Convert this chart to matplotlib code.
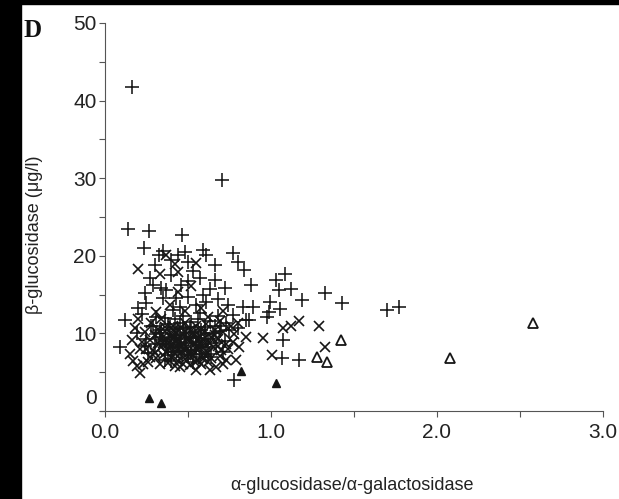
import numpy as np
import matplotlib.pyplot as plt
from matplotlib.patches import Rectangle
from matplotlib.transforms import ScaledTranslation

plt.rcParams['font.family'] = ['Liberation Sans', 'DejaVu Sans']

# "+" group
plus_x = [0.16, 0.707, 0.137, 0.267, 0.466, 0.235,
          0.327, 0.44, 0.48, 0.59, 0.61, 0.50, 0.30, 0.66, 0.77, 0.80, 0.84, 0.27, 0.40, 0.50,
          0.66, 0.72, 0.88, 0.24, 0.34, 0.35, 0.50, 0.59, 0.61, 0.25, 0.45, 0.83, 0.89, 0.12,
          0.31, 0.41, 0.57, 0.77, 0.85, 0.09, 0.78, 0.87,
          1.70, 1.77, 1.43, 1.325, 1.084, 1.03, 1.05, 1.12, 1.185, 0.994, 1.054, 0.974, 0.99,
          1.074, 1.064, 1.17,
          0.22, 0.28, 0.33, 0.36, 0.38, 0.42, 0.44, 0.47, 0.52, 0.54, 0.56, 0.60, 0.63, 0.65,
          0.68, 0.70, 0.73, 0.75, 0.80, 0.19, 0.25, 0.30, 0.35, 0.40, 0.45, 0.49, 0.53, 0.58,
          0.62, 0.67, 0.72, 0.26, 0.38, 0.46, 0.55, 0.64, 0.43, 0.55, 0.37, 0.46, 0.53, 0.57,
          0.63, 0.68, 0.74, 0.40, 0.35, 0.29, 0.20,
          0.31, 0.42, 0.51, 0.57, 0.36, 0.47, 0.60, 0.66, 0.53, 0.41,
          0.34, 0.39, 0.44, 0.49, 0.55, 0.61, 0.37, 0.43, 0.48, 0.52, 0.58, 0.33, 0.40,
          0.45, 0.50, 0.56, 0.62, 0.69, 0.29, 0.24, 0.71]
plus_y = [41.7, 29.8, 23.5, 23.2, 22.7, 21.0,
          20.1, 20.1, 20.5, 20.7, 20.1, 19.2, 18.8, 18.8, 20.3, 19.2, 18.2, 17.1, 17.5, 16.7,
          16.9, 15.8, 16.2, 15.2, 15.8, 14.5, 14.7, 14.9, 14.1, 13.9, 13.4, 13.4, 13.4, 11.7,
          12.1, 13.0, 12.6, 12.4, 11.7, 8.3, 4.0, 11.7,
          13.0, 13.4, 13.9, 15.2, 17.7, 16.9, 15.6, 15.7, 14.3, 14.1, 13.2, 12.1, 12.8,
          9.2, 6.8, 6.6,
          12.5, 11.0, 10.5, 12.0, 11.2, 11.8, 10.6, 12.2, 11.5, 10.2, 11.9, 10.8, 11.6, 10.1,
          12.3, 10.9, 11.3, 10.4, 10.7, 10.0, 9.3, 8.6, 9.1, 8.4, 9.5, 8.8, 9.6, 8.5,
          9.3, 8.7, 9.0, 7.5, 7.2, 7.7, 7.3, 7.0, 14.6, 13.6, 15.6, 16.3, 18.0, 17.2,
          15.7, 14.4, 13.6, 19.5, 20.6, 16.3, 13.3,
          9.9, 9.4, 10.8, 7.0, 6.6, 10.7, 9.9, 11.0, 6.3, 7.6,
          10.0, 10.8, 8.3, 10.1, 8.9, 8.2, 8.6, 9.8, 9.3, 7.9, 10.5, 9.5, 6.4,
          11.4, 7.2, 9.4, 7.4, 10.3, 10.9, 8.4, 7.6]

# "x" group
cross_x = [0.37, 0.20, 0.44, 0.20, 0.16, 0.17, 0.21, 0.23, 0.79, 0.81, 0.85, 0.63, 0.55, 0.45, 0.67,
           1.29, 1.325, 1.17, 1.074, 1.004, 0.954, 1.12,
           0.28, 0.34, 0.41, 0.48, 0.55, 0.61, 0.69, 0.76,
           0.24, 0.30, 0.36, 0.39, 0.43, 0.47, 0.51, 0.57, 0.60, 0.66, 0.71, 0.78,
           0.22, 0.27, 0.32, 0.37, 0.41, 0.45, 0.50, 0.54, 0.59, 0.63, 0.68, 0.73, 0.77,
           0.25, 0.29, 0.34, 0.38, 0.42, 0.46, 0.49, 0.53, 0.57, 0.61, 0.65, 0.70, 0.74,
           0.27, 0.31, 0.35, 0.40, 0.44, 0.48, 0.52, 0.56, 0.60, 0.64, 0.69, 0.73,
           0.33, 0.38, 0.42, 0.47, 0.51, 0.58, 0.62, 0.71, 0.26,
           0.31, 0.39, 0.48, 0.58, 0.44, 0.52, 0.33, 0.55, 0.42, 0.62, 0.71, 0.80,
           0.18, 0.21, 0.15, 0.19,
           0.35, 0.40, 0.45, 0.50, 0.55, 0.60, 0.37, 0.42, 0.47, 0.52, 0.57, 0.62,
           0.36, 0.41, 0.46, 0.53, 0.58, 0.64, 0.39, 0.44, 0.49, 0.54, 0.59, 0.32,
           0.43, 0.48, 0.56, 0.66, 0.30, 0.68,
           0.38, 0.46, 0.51, 0.56, 0.41, 0.49, 0.54, 0.61, 0.35, 0.44]
cross_y = [20.1, 18.3, 17.9, 11.9, 9.2, 6.4, 4.9, 6.1, 6.6, 8.3, 9.6, 5.3, 5.3, 5.7, 5.7,
           10.9, 8.3, 11.6, 10.7, 7.2, 9.4, 10.9,
           11.3, 11.8, 11.0, 11.4, 10.9, 11.2, 11.6, 11.0,
           10.2, 9.8, 10.3, 9.6, 10.1, 9.9, 10.4, 9.7, 10.3, 9.8, 10.2, 9.9,
           8.9, 9.1, 8.8, 9.3, 8.7, 9.0, 9.2, 8.6, 9.1, 8.8, 9.3, 8.6, 8.9,
           8.0, 7.8, 8.2, 7.9, 8.1, 7.6, 8.3, 7.8, 8.1, 7.7, 8.2, 7.9, 8.0,
           7.0, 6.8, 7.2, 6.9, 7.1, 6.7, 7.0, 6.6, 7.2, 6.8, 7.1, 6.6,
           6.0, 6.2, 5.8, 6.1, 5.9, 6.0, 6.3, 6.0, 6.3,
           12.8, 13.6, 12.9, 13.3, 15.3, 16.1, 17.6, 19.1, 18.9, 12.1, 12.9, 11.3,
           10.7, 8.0, 7.4, 5.8,
           9.5, 9.9, 8.4, 9.6, 8.0, 9.5, 7.6, 7.4, 8.7, 7.4, 8.8, 7.5,
           10.8, 10.5, 10.7, 10.0, 10.6, 9.6, 8.4, 6.4, 7.9, 6.3, 6.7, 10.6,
           9.0, 10.3, 9.3, 10.4, 7.5, 8.4,
           8.6, 8.3, 9.1, 8.0, 9.4, 7.2, 9.8, 8.5, 8.7, 9.2]

# filled triangles
tri_x = [0.265, 0.34, 0.82, 1.03]
tri_y = [1.7, 1.0, 5.1, 3.6]

# open triangles
otri_x = [2.58, 2.08, 1.42, 1.275, 1.335]
otri_y = [11.4, 6.8, 9.2, 6.9, 6.3]

xticks = [0.0, 1.0, 2.0, 3.0]
xtick_labels = ['0.0', '1.0', '2.0', '3.0']
yticks = [0, 10, 20, 30, 40, 50]

W, H = 619, 499
fig = plt.figure(figsize=(W / 100, H / 100), dpi=100)
fig.patch.set_facecolor('white')

# black scan border
fig.patches.append(Rectangle((0, 0), 21 / W, 1, transform=fig.transFigure, color='black', zorder=0))
fig.patches.append(Rectangle((0, 1 - 4 / H), 1, 4 / H, transform=fig.transFigure, color='black', zorder=0))

ax = fig.add_axes([100 / W, (H - 411) / H, (603 - 100) / W, (411 - 23) / H])
ax.set_xlim(-0.03, 3.0)
ax.set_ylim(0, 50)

ink = '#161616'
ax.plot(plus_x, plus_y, linestyle='none', marker='+', ms=10, mew=1.15, color=ink, clip_on=False)
ax.plot(cross_x, cross_y, linestyle='none', marker='x', ms=7, mew=1.2, color=ink, clip_on=False)
ax.plot(tri_x, tri_y, linestyle='none', marker='^', ms=6, color=ink, mec=ink, clip_on=False)
ax.plot(otri_x, otri_y, linestyle='none', marker='^', ms=7.5, mfc='none', mew=1.3, color=ink, clip_on=False)

for s in ['top', 'right']:
    ax.spines[s].set_visible(False)
ax.spines['left'].set_position(('data', 0))
ax.spines['left'].set_color('#555555')
ax.spines['bottom'].set_color('#555555')

ax.set_xticks(xticks)
ax.set_xticklabels(xtick_labels)
ax.set_xticks([0.5, 1.5, 2.5], minor=True)
ax.set_yticks(yticks)
ax.set_yticks([5, 15, 25, 35, 45], minor=True)
ax.tick_params(which='both', direction='out', length=4, width=0.8, color='#555555')
ax.tick_params(axis='y', labelsize=15, pad=2, labelcolor='#222222')
ax.tick_params(axis='x', labelsize=15, pad=5, labelcolor='#222222')

# the "0" sits above the axis line in the original
zero_lbl = ax.get_yticklabels()[0]
zero_lbl.set_transform(zero_lbl.get_transform() + ScaledTranslation(0, 0.14, fig.dpi_scale_trans))

fig.text(35 / W, 1 - 235 / H, 'β-glucosidase (μg/l)', rotation=90, ha='center', va='center',
         fontsize=13, color='#222222')
fig.text(352 / W, 1 - 485 / H, 'α-glucosidase/α-galactosidase', ha='center', va='center',
         fontsize=13, color='#222222')
fig.text(23 / W, 1 - 37 / H, 'D', fontsize=18, fontweight='bold', family='Liberation Serif',
         color='#111111')

fig.savefig('out.png', dpi=100)
